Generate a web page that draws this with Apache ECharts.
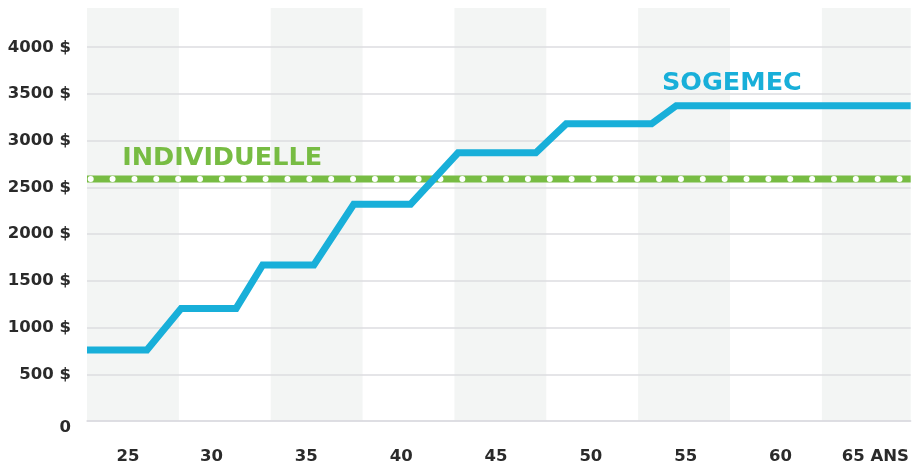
<!DOCTYPE html>
<html>
<head>
<meta charset="utf-8">
<script src="https://cdn.jsdelivr.net/npm/echarts@6/dist/echarts.min.js"></script>
<style>
html,body{margin:0;padding:0;background:#fff;}
#chart{width:912px;height:467px;}
</style>
</head>
<body>
<div id="chart"></div>
<script>
// ---- data ----
const ageMin = 23.44;
const ageMax = 66.86;
const ageTicks = [25, 30, 35, 40, 45, 50, 55, 60, 65];
const sogemecAges   = [23.44, 26.6, 28.4, 31.3, 32.7, 35.4, 37.5, 40.5, 43.0, 47.1, 48.7, 53.2, 54.5, 66.86];
const sogemecValues = [760, 760, 1205, 1205, 1670, 1670, 2320, 2320, 2870, 2870, 3180, 3180, 3375, 3375];
const individuelleAges   = [23.44, 66.86];
const individuelleValues = [2590, 2590];
const yTicks = [0, 500, 1000, 1500, 2000, 2500, 3000, 3500, 4000];
const seriesNames = ['SOGEMEC', 'INDIVIDUELLE'];

const pair = (xs, ys) => xs.map((x, i) => [x, ys[i]]);

const blue = '#18afd9';
const green = '#77bc43';
const grey = '#dcdce1';
const labelFont = { color: '#2a2a2a', fontFamily: 'DejaVu Sans', fontWeight: 'bold', fontSize: 16.5 };

const chart = echarts.init(document.getElementById('chart'));
chart.setOption({
  animation: false,
  grid: { left: 87, right: 0, top: 8, bottom: 46, containLabel: false },
  xAxis: [
    {
      type: 'value', min: ageMin, max: ageMax, z: 2,
      axisLine: { show: true, lineStyle: { color: grey, width: 1.5 } },
      axisTick: { show: false },
      splitLine: { show: false },
      axisLabel: Object.assign({
        customValues: ageTicks,
        margin: 27,
        formatter: v => v === 65 ? '65 ANS' : (v === 25 ? '{a|25}' : String(v)),
        rich: { a: Object.assign({ padding: [0, 0, 0, 23] }, labelFont) }
      }, labelFont)
    },
    {
      type: 'value', min: 0, max: 8.967, interval: 1, position: 'top', z: 0,
      axisLine: { show: false }, axisTick: { show: false }, axisLabel: { show: false },
      splitLine: { show: false },
      splitArea: { show: true, areaStyle: { color: ['#f3f5f4', 'rgba(255,255,255,0)'] } }
    }
  ],
  yAxis: {
    type: 'value', min: 0, max: 4420, interval: 500, z: 1,
    axisLine: { show: false }, axisTick: { show: false },
    splitLine: { show: true, showMaxLine: false, lineStyle: { color: grey, width: 1.5 } },
    axisLabel: Object.assign({
      showMaxLabel: false,
      margin: 16,
      formatter: v => v === 0 ? '{z|0}' : (yTicks.indexOf(v) >= 0 ? v + ' $' : ''),
      rich: { z: Object.assign({ padding: [14, 0, 0, 0] }, labelFont) }
    }, labelFont)
  },
  series: [
    {
      name: seriesNames[1], type: 'line', xAxisIndex: 0, z: 2,
      data: pair(individuelleAges, individuelleValues),
      symbol: 'none',
      lineStyle: { color: green, width: 7 },
      markPoint: {
        symbol: 'rect', symbolSize: 1, itemStyle: { color: 'rgba(0,0,0,0)' },
        data: [{ coord: [25.32, 2810], label: {
          show: true, formatter: seriesNames[1], position: [0, 0], align: 'left', verticalAlign: 'middle',
          color: green, fontFamily: 'DejaVu Sans', fontWeight: 'bold', fontSize: 25.5 } }]
      }
    },
    {
      name: 'dots', type: 'line', xAxisIndex: 0, z: 3,
      data: pair(individuelleAges, individuelleValues),
      symbol: 'none',
      lineStyle: { color: '#ffffff', width: 6, type: [0.01, 21.85], cap: 'round', dashOffset: 18.15 }
    },
    {
      name: seriesNames[0], type: 'line', xAxisIndex: 0, z: 4,
      data: pair(sogemecAges, sogemecValues),
      symbol: 'none',
      lineStyle: { color: blue, width: 7, join: 'miter' },
      markPoint: {
        symbol: 'rect', symbolSize: 1, itemStyle: { color: 'rgba(0,0,0,0)' },
        data: [{ coord: [53.77, 3610], label: {
          show: true, formatter: seriesNames[0], position: [0, 0], align: 'left', verticalAlign: 'middle',
          color: blue, fontFamily: 'DejaVu Sans', fontWeight: 'bold', fontSize: 25.5 } }]
      }
    }
  ]
});
</script>
</body>
</html>
